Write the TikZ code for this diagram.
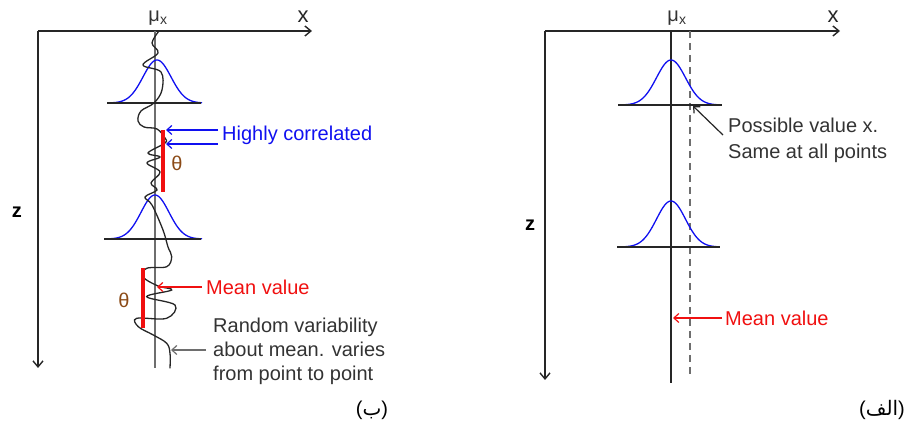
\documentclass[tikz,border=0pt]{standalone}
\usepackage{fontspec}
\setmainfont{Liberation Sans}
\newfontfamily\arabicfont[Script=Arabic]{DejaVu Sans}
\TeXXeTstate=1
\usetikzlibrary{arrows.meta}
\definecolor{axiscol}{HTML}{262626}
\definecolor{meanline}{HTML}{6E6E6E}
\definecolor{thetacol}{HTML}{8B4A16}
\definecolor{bluecol}{HTML}{1010F0}
\definecolor{redcol}{HTML}{F01010}
\definecolor{graytxt}{HTML}{333333}
\tikzset{
  axisline/.style={draw=axiscol, line width=1.4pt, -{Straight Barb[length=6pt,width=10pt,line width=1.4pt]}},
  baseline/.style={draw=axiscol, line width=1.6pt},
  gauss/.style={draw=bluecol, line width=1.3pt},
  wiggle/.style={draw=axiscol, line width=1.3pt},
  redbar/.style={draw=redcol, line width=4pt},
  lbl/.style={font=\fontsize{20}{24}\selectfont, inner sep=0pt},
  barb/.style={-{Straight Barb[length=5pt,width=9pt,line width=1.2pt]}, line width=1.2pt},
}
\begin{document}
\begin{tikzpicture}[x=1pt,y=-1pt]
\useasboundingbox (0,0) rectangle (906,427);

% ================= LEFT PANEL (b) =================
\coordinate (LO) at (38,31);
\coordinate (LX) at (312,31);
\coordinate (LZ) at (38,368);
\draw[axisline] (LO) -- (LX);
\draw[axisline] (LO) -- (LZ);
\node[lbl, text=axiscol, font=\fontsize{22}{24}\selectfont] (lxlab) at (303,17) {x};
\node[lbl, text=black, font=\bfseries\fontsize{20}{24}\selectfont] (lzlab) at (17,212) {z};
\node[lbl, text=graytxt] (lmu) at (158,18) {μ\textsubscript{x}};
% mean line
\coordinate (LMtop) at (155,31);
\coordinate (LMbot) at (155,368);
\draw[meanline, line width=1.4pt] (LMtop) -- (LMbot);
% gaussians
\draw[gauss] plot[domain=-45:45, samples=70, smooth] ({157+\x},{103-43*exp(-(\x*\x)/(2*14*14))});
\coordinate (LB1a) at (107,103); \coordinate (LB1b) at (201,103);
\draw[baseline] (LB1a) -- (LB1b);
\draw[gauss] plot[domain=-47:47, samples=70, smooth] ({155+\x},{239-44*exp(-(\x*\x)/(2*14*14))});
\coordinate (LB2a) at (104,239); \coordinate (LB2b) at (201,239);
\draw[baseline] (LB2a) -- (LB2b);
% wiggle
\draw[wiggle] plot[smooth, tension=0.6] coordinates {
 (159,31) (152,43) (158,53) (143,65) (161,72) (162,90) (154,103) (141,111)
 (138,121) (144,127) (157,129) (165,138) (165,143) (148,153) (160,157)
 (147,163) (160,172) (151,183) (157,190) (145,197) (152,205) (163,230)
 (168,247) (171.7,256.7) (166.7,266.7) (146.7,268.3) (143,277) (158,286)
 (171.7,290) (146.7,296.7) (175,305) (166.7,318.3) (136.7,318.3)
 (138.3,326.7) (153.3,335) (166.7,343.3) (170,353.3) (170,368.3)};
% red bars
\coordinate (RB1a) at (163,130); \coordinate (RB1b) at (163,192);
\draw[redbar] (RB1a) -- (RB1b);
\node[lbl, text=thetacol] (th1) at (177,163) {θ};
\coordinate (RB2a) at (143,268); \coordinate (RB2b) at (143,328);
\draw[redbar] (RB2a) -- (RB2b);
\node[lbl, text=thetacol] (th2) at (124,300) {θ};
% highly correlated
\node[lbl, text=bluecol, anchor=west] (hc) at (222,135) {Highly correlated};
\coordinate (hcA1) at (218,130); \coordinate (hcB1) at (166,130);
\coordinate (hcA2) at (218,144); \coordinate (hcB2) at (166,144);
\draw[barb, draw=bluecol, line width=2pt] (hcA1) -- (hcB1);
\draw[barb, draw=bluecol, line width=2pt] (hcA2) -- (hcB2);
% mean value
\node[lbl, text=redcol, anchor=west] (lmv) at (206,287) {Mean value};
\coordinate (lmvA) at (202,287); \coordinate (lmvB) at (157,287);
\draw[barb, draw=redcol] (lmvA) -- (lmvB);
% random variability
\node[lbl, text=graytxt, anchor=west, align=left] (rv) at (213,351) {Random variability\\about mean. varies\\from point to point};
\coordinate (rvA) at (206,350); \coordinate (rvB) at (171,350);
\draw[barb, draw=meanline] (rvA) -- (rvB);
\node[lbl, text=black] (capb) at (372,410) {({\arabicfont\beginR ب\endR})};

% ================= RIGHT PANEL (alef) =================
\coordinate (RO) at (545,31);
\coordinate (RX) at (840,31);
\coordinate (RZ) at (545,380);
\draw[axisline] (RO) -- (RX);
\draw[axisline] (RO) -- (RZ);
\node[lbl, text=axiscol, font=\fontsize{22}{24}\selectfont] (rxlab) at (833,17) {x};
\node[lbl, text=black, font=\bfseries\fontsize{20}{24}\selectfont] (rzlab) at (530,225) {z};
\node[lbl, text=graytxt] (rmu) at (677,18) {μ\textsubscript{x}};
\coordinate (RMtop) at (671,31); \coordinate (RMbot) at (671,383);
\draw[axiscol, line width=1.4pt] (RMtop) -- (RMbot);
\coordinate (RDtop) at (690,31); \coordinate (RDbot) at (690,378);
\draw[meanline, line width=1.4pt, dash pattern=on 7pt off 5pt] (RDtop) -- (RDbot);
\draw[gauss] plot[domain=-48:48, samples=70, smooth] ({671+\x},{105-45*exp(-(\x*\x)/(2*14.5*14.5))});
\coordinate (RB1a) at (618,105); \coordinate (RB1b) at (722,105);
\draw[baseline] (RB1a) -- (RB1b);
\draw[gauss] plot[domain=-48:48, samples=70, smooth] ({671+\x},{247-46*exp(-(\x*\x)/(2*14.5*14.5))});
\coordinate (RB2a) at (617,247); \coordinate (RB2b) at (720,247);
\draw[baseline] (RB2a) -- (RB2b);
% possible value
\node[lbl, text=graytxt, anchor=west, align=left, font=\fontsize{20}{26}\selectfont] (pv) at (728,140) {Possible value x.\\Same at all points};
\coordinate (pvA) at (723,135); \coordinate (pvB) at (693,106);
\draw[barb, draw=axiscol] (pvA) -- (pvB);
% mean value
\node[lbl, text=redcol, anchor=west] (rmv) at (725,318) {Mean value};
\coordinate (rmvA) at (722,318); \coordinate (rmvB) at (673,318);
\draw[barb, draw=redcol] (rmvA) -- (rmvB);
\node[lbl, text=black] (capa) at (882,410) {({\arabicfont\beginR الف\endR})};
\end{tikzpicture}
\end{document}
